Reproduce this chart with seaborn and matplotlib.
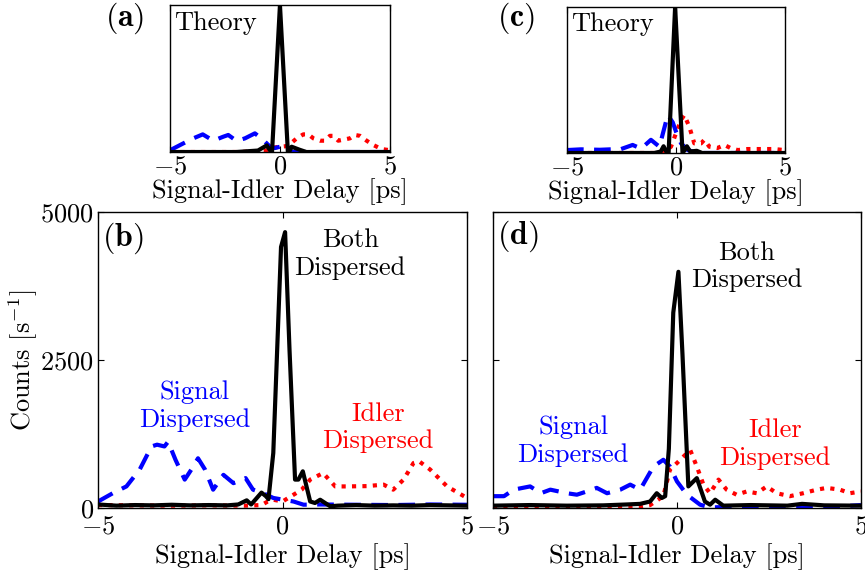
import numpy as np
import pandas as pd
import matplotlib
matplotlib.use("Agg")
import matplotlib.pyplot as plt
import seaborn as sns

# ---- theory (a): normalised coincidences vs delay [ps]
ta_both = [-5, -2, -1, -0.6, -0.45, -0.36, 0, 0.36, 0.45, 0.53, 0.9, 1.2, 5]
fa_both = [0, 0, 0.01, 0.045, 0.01, 0, 1.0, 0, 0.01, 0.036, 0.015, 0, 0]
ta_sig = [-5, -4.92, -4.39, -3.94, -3.51, -3.03, -2.58, -2.35, -1.97, -1.59, -1.14,
          -0.76, -0.45, -0.23, 0, 0.3, 0.6, 5]
fa_sig = [0.015, 0.018, 0.059, 0.093, 0.12, 0.077, 0.104, 0.116, 0.075, 0.093, 0.127,
          0.082, 0.036, 0.027, 0.036, 0.018, 0, 0]
ta_idl = [-5, -1.8, -0.6, -0.3, 0, 0.3, 0.53, 0.76, 1.06, 1.29, 1.52, 1.82, 2.05, 2.27,
          2.42, 2.65, 2.95, 3.18, 3.41, 3.64, 3.94, 4.24, 4.62, 4.92, 5]
fa_idl = [0, 0, 0.01, 0.03, 0.036, 0.04, 0.063, 0.093, 0.12, 0.12, 0.093, 0.077, 0.077,
          0.11, 0.11, 0.077, 0.086, 0.093, 0.116, 0.11, 0.077, 0.048, 0.02, 0.014, 0.012]

# ---- theory (c)
tc_both = [-5, -1, -0.7, -0.57, -0.45, -0.34, -0.04, 0.3, 0.4, 0.5, 0.65, 0.95, 1.2, 5]
fc_both = [0, 0, 0.01, 0.046, 0.01, 0, 1.0, 0, 0.02, 0.046, 0.01, 0.015, 0, 0]
tc_sig = [-5, -4.36, -3.5, -3.0, -2.52, -1.99, -1.6, -1.15, -0.76, -0.38, -0.15, 0.0,
          0.23, 0.54, 1.0, 5]
fc_sig = [0.02, 0.025, 0.022, 0.025, 0.027, 0.055, 0.03, 0.09, 0.043, 0.26, 0.21, 0.146,
          0.066, 0.02, 0, 0]
tc_idl = [-5, -1, -0.5, -0.23, 0, 0.23, 0.38, 0.61, 0.84, 1.15, 1.3, 1.53, 1.9, 2.22,
          2.5, 2.83, 3.29, 3.9, 4.5, 4.97, 5]
fc_idl = [0, 0, 0.01, 0.043, 0.135, 0.226, 0.26, 0.18, 0.066, 0.066, 0.09, 0.043, 0.034,
          0.055, 0.034, 0.02, 0.027, 0.027, 0.027, 0.02, 0.02]

# ---- measured (b): counts per second
tb_both = [-5, -4.5, -4, -3.5, -3, -2.5, -2, -1.5, -1.2, -0.97, -0.85, -0.57, -0.45,
           -0.38, -0.25, -0.04, 0.07, 0.19, 0.34, 0.43, 0.55, 0.75, 0.88, 1.02, 1.29,
           1.5, 2, 2.5, 3, 3.5, 4, 4.5, 5]
cb_both = [60, 40, 50, 45, 55, 45, 50, 45, 60, 130, 60, 260, 200, 150, 930, 4410, 4660,
           2670, 480, 480, 620, 110, 85, 140, 30, 40, 50, 40, 45, 40, 50, 45, 40]
tb_sig = [-5, -4.6, -4.23, -3.87, -3.55, -3.4, -3.2, -3.1, -2.9, -2.65, -2.47, -2.29,
          -2.1, -1.88, -1.6, -1.33, -1.0, -0.8, -0.52, -0.25, 0.02, 0.3, 0.57, 1.0, 2.0,
          3.0, 4.0, 5.0]
cb_sig = [110, 250, 365, 650, 1040, 1070, 1040, 1120, 815, 480, 650, 840, 650, 310, 560,
          420, 505, 310, 250, 170, 140, 110, 56, 60, 55, 50, 60, 55]
tb_idl = [-5, -4, -3, -2, -1, -0.57, -0.4, -0.25, 0.0, 0.3, 0.52, 0.75, 1.1, 1.43, 1.74,
          2.28, 2.74, 3.0, 3.28, 3.55, 3.7, 4.0, 4.46, 5.0]
cb_idl = [50, 45, 40, 45, 40, 50, 110, 140, 110, 225, 310, 480, 590, 365, 365, 370, 395,
          310, 480, 760, 790, 650, 365, 170]

# ---- measured (d)
td_both = [-5, -4, -3, -2, -1.36, -1, -0.73, -0.55, -0.41, -0.32, -0.22, -0.1, 0.04,
           0.15, 0.31, 0.54, 0.76, 0.9, 1.04, 1.26, 2, 3, 3.4, 4, 5]
cd_both = [40, 50, 40, 45, 60, 70, 110, 250, 170, 200, 1000, 3300, 3990, 2600, 365, 505,
           110, 56, 140, 40, 50, 40, 70, 45, 40]
td_sig = [-5, -4.7, -4.44, -3.99, -3.7, -3.44, -2.99, -2.72, -2.45, -2.18, -1.9, -1.54,
          -1.27, -1.0, -0.64, -0.37, -0.19, 0.0, 0.27, 0.63, 0.9, 1.5, 2.5, 3.5, 4.5, 5]
cd_sig = [200, 200, 310, 365, 250, 310, 250, 225, 280, 340, 250, 310, 395, 310, 700, 815,
          700, 450, 225, 56, 10, 20, 20, 25, 30, 50]
td_idl = [-5, -4, -3, -2, -1, -0.73, -0.37, -0.19, 0.0, 0.18, 0.36, 0.54, 0.72, 0.9,
          1.13, 1.35, 1.62, 1.9, 2.17, 2.44, 2.71, 3.07, 3.43, 3.8, 4.07, 4.43, 4.7, 5.0]
cd_idl = [20, 25, 20, 25, 25, 50, 200, 650, 760, 870, 980, 700, 395, 250, 480, 310, 225,
          280, 250, 365, 250, 200, 250, 310, 340, 310, 250, 280]

plt.rcParams["font.family"] = ["cmr10", "DejaVu Serif"]
plt.rcParams["mathtext.fontset"] = "cm"
plt.rcParams["axes.unicode_minus"] = False
plt.rcParams["axes.linewidth"] = 1.0

FS = 19
LW = 3.0
dash = (0, (4, 2.5))
dot = (0, (1, 1.5))

fig = plt.figure(figsize=(8.65, 5.73), dpi=100)
ax_a = fig.add_axes([0.1965, 0.7347, 0.2543, 0.2565])
ax_c = fig.add_axes([0.6555, 0.733, 0.2520, 0.2548])
ax_b = fig.add_axes([0.1133, 0.1134, 0.4266, 0.5166])
ax_d = fig.add_axes([0.5699, 0.1134, 0.4254, 0.5166])


def draw(ax, t_i, y_i, t_s, y_s, t_b, y_b, pad, lpad):
    sns.lineplot(x=t_i, y=y_i, ax=ax, color="red", linestyle=dot, lw=LW)
    sns.lineplot(x=t_s, y=y_s, ax=ax, color="blue", linestyle=dash, lw=LW)
    sns.lineplot(x=t_b, y=y_b, ax=ax, color="black", lw=LW)
    ax.set_xlim(-5, 5)
    ax.set_xticks([-5, 0, 5])
    ax.set_xticklabels([r"$-5$", r"$0$", r"$5$"], fontsize=FS)
    ax.tick_params(direction="in", top=True, right=True, length=4, pad=pad)
    ax.set_xlabel("Signal-Idler Delay [ps]", fontsize=FS, labelpad=lpad)


draw(ax_a, ta_idl, fa_idl, ta_sig, fa_sig, ta_both, fa_both, 2, 0)
draw(ax_c, tc_idl, fc_idl, tc_sig, fc_sig, tc_both, fc_both, 2, 0)
draw(ax_b, tb_idl, cb_idl, tb_sig, cb_sig, tb_both, cb_both, 5, 3)
draw(ax_d, td_idl, cd_idl, td_sig, cd_sig, td_both, cd_both, 5, 3)

for ax in (ax_a, ax_c):
    ax.set_ylim(0, 1)
    ax.set_yticks([])
    ax.set_ylabel("")
    ax.text(0.02, 0.88, "Theory", transform=ax.transAxes, fontsize=FS,
            ha="left", va="center")

for ax in (ax_b, ax_d):
    ax.set_ylim(0, 5000)
    ax.set_yticks([0, 2500, 5000])
ax_b.set_yticklabels([r"$0$", r"$2500$", r"$5000$"], fontsize=FS)
ax_b.tick_params(axis="y", pad=3)
ax_b.set_ylabel(r"Counts [s$^{-1}$]", fontsize=FS, labelpad=0)
ax_d.set_yticklabels([])
ax_d.set_ylabel("")

# annotations
ax_b.text(1.83, 4290, "Both\nDispersed", fontsize=FS, ha="center", va="center",
          color="black", linespacing=1.2)
ax_b.text(-2.37, 1720, "Signal\nDispersed", fontsize=FS, ha="center", va="center",
          color="blue", linespacing=1.2)
ax_b.text(2.58, 1360, "Idler\nDispersed", fontsize=FS, ha="center", va="center",
          color="red", linespacing=1.2)
ax_d.text(1.89, 4076, "Both\nDispersed", fontsize=FS, ha="center", va="center",
          color="black", linespacing=1.2)
ax_d.text(-2.82, 1130, "Signal\nDispersed", fontsize=FS, ha="center", va="center",
          color="blue", linespacing=1.2)
ax_d.text(2.66, 1080, "Idler\nDispersed", fontsize=FS, ha="center", va="center",
          color="red", linespacing=1.2)

# panel labels
ax_b.text(0.012, 0.91, r"$\mathbf{(b)}$", transform=ax_b.transAxes, fontsize=23,
          ha="left", va="center")
ax_d.text(0.012, 0.917, r"$\mathbf{(d)}$", transform=ax_d.transAxes, fontsize=23,
          ha="left", va="center")
fig.text(0.121, 0.969, r"$\mathbf{(a)}$", fontsize=23, ha="left", va="center")
fig.text(0.575, 0.969, r"$\mathbf{(c)}$", fontsize=23, ha="left", va="center")

fig.savefig("out.png", dpi=100)
